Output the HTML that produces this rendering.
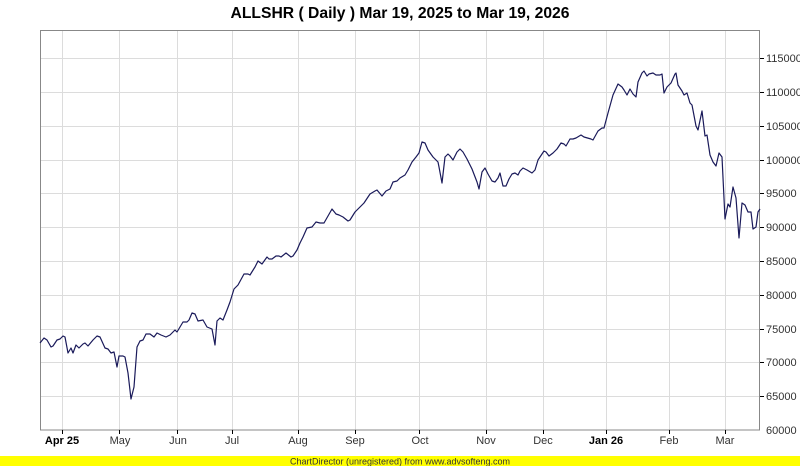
<!DOCTYPE html>
<html><head><meta charset="utf-8"><style>
html,body{margin:0;padding:0;background:#fff;}
svg{display:block;font-family:"Liberation Sans",Arial,sans-serif;}
</style></head><body>
<svg width="800" height="466" viewBox="0 0 800 466" xmlns="http://www.w3.org/2000/svg">
<rect width="800" height="466" fill="#fff"/>
<text x="400" y="18" text-anchor="middle" font-size="16" font-weight="bold" textLength="339" lengthAdjust="spacingAndGlyphs">ALLSHR ( Daily ) Mar 19, 2025 to Mar 19, 2026</text>
<g stroke="#dcdcdc" stroke-width="1">
<line x1="40" y1="58.5" x2="760" y2="58.5"/>
<line x1="40" y1="92.5" x2="760" y2="92.5"/>
<line x1="40" y1="126.5" x2="760" y2="126.5"/>
<line x1="40" y1="160.5" x2="760" y2="160.5"/>
<line x1="40" y1="193.5" x2="760" y2="193.5"/>
<line x1="40" y1="227.5" x2="760" y2="227.5"/>
<line x1="40" y1="261.5" x2="760" y2="261.5"/>
<line x1="40" y1="295.5" x2="760" y2="295.5"/>
<line x1="40" y1="329.5" x2="760" y2="329.5"/>
<line x1="40" y1="362.5" x2="760" y2="362.5"/>
<line x1="40" y1="396.5" x2="760" y2="396.5"/>
<line x1="62.5" y1="30" x2="62.5" y2="430"/>
<line x1="119.5" y1="30" x2="119.5" y2="430"/>
<line x1="177.5" y1="30" x2="177.5" y2="430"/>
<line x1="232.5" y1="30" x2="232.5" y2="430"/>
<line x1="298.5" y1="30" x2="298.5" y2="430"/>
<line x1="355.5" y1="30" x2="355.5" y2="430"/>
<line x1="419.5" y1="30" x2="419.5" y2="430"/>
<line x1="486.5" y1="30" x2="486.5" y2="430"/>
<line x1="543.5" y1="30" x2="543.5" y2="430"/>
<line x1="606.5" y1="30" x2="606.5" y2="430"/>
<line x1="669.5" y1="30" x2="669.5" y2="430"/>
<line x1="725.5" y1="30" x2="725.5" y2="430"/>
</g>
<rect x="40.5" y="30.5" width="719" height="399.5" fill="none" stroke="#888" stroke-width="1"/>
<g stroke="#000" stroke-width="1">
<line x1="760" y1="58.5" x2="764" y2="58.5"/><line x1="760" y1="92.5" x2="764" y2="92.5"/><line x1="760" y1="126.5" x2="764" y2="126.5"/><line x1="760" y1="160.5" x2="764" y2="160.5"/><line x1="760" y1="193.5" x2="764" y2="193.5"/><line x1="760" y1="227.5" x2="764" y2="227.5"/><line x1="760" y1="261.5" x2="764" y2="261.5"/><line x1="760" y1="295.5" x2="764" y2="295.5"/><line x1="760" y1="329.5" x2="764" y2="329.5"/><line x1="760" y1="362.5" x2="764" y2="362.5"/><line x1="760" y1="396.5" x2="764" y2="396.5"/>
<line x1="62.5" y1="430" x2="62.5" y2="434"/><line x1="119.5" y1="430" x2="119.5" y2="434"/><line x1="177.5" y1="430" x2="177.5" y2="434"/><line x1="232.5" y1="430" x2="232.5" y2="434"/><line x1="298.5" y1="430" x2="298.5" y2="434"/><line x1="355.5" y1="430" x2="355.5" y2="434"/><line x1="419.5" y1="430" x2="419.5" y2="434"/><line x1="486.5" y1="430" x2="486.5" y2="434"/><line x1="543.5" y1="430" x2="543.5" y2="434"/><line x1="606.5" y1="430" x2="606.5" y2="434"/><line x1="669.5" y1="430" x2="669.5" y2="434"/><line x1="725.5" y1="430" x2="725.5" y2="434"/>
</g>
<g font-size="11" fill="#333">
<text x="766" y="62">115000</text><text x="766" y="96">110000</text><text x="766" y="130">105000</text><text x="766" y="164">100000</text><text x="766" y="197">95000</text><text x="766" y="231">90000</text><text x="766" y="265">85000</text><text x="766" y="299">80000</text><text x="766" y="333">75000</text><text x="766" y="366">70000</text><text x="766" y="400">65000</text><text x="766" y="434">60000</text>
</g>
<g font-size="11" fill="#333" text-anchor="middle">
<text x="62" y="444" font-weight="bold" fill="#000">Apr 25</text>
<text x="120" y="444">May</text><text x="178" y="444">Jun</text><text x="232" y="444">Jul</text><text x="298" y="444">Aug</text><text x="355" y="444">Sep</text><text x="420" y="444">Oct</text><text x="486" y="444">Nov</text><text x="543" y="444">Dec</text>
<text x="606" y="444" font-weight="bold" fill="#000">Jan 26</text>
<text x="669" y="444">Feb</text><text x="725" y="444">Mar</text>
</g>
<polyline fill="none" stroke="#1a1a5a" stroke-width="1.2" stroke-linejoin="round" points="40,343 44,338 47,340 51,347 53,346 57,340 60,339 63,336 65,337 68,353 71,348 73,353 76,345 79,348 83,344 85,343 88,346 93,340 97,336 100,337 105,348 108,349 111,353 114,352 117,367 119,356 123,356 125,357 128,373 131,399 134,387 137,347 140,341 143,340 146,334 150,334 154,337 157,333 161,335 166,337 170,335 175,330 177,332 183,322 187,322 189,320 192,313 195,314 198,321 203,320 207,327 212,329 215,345 217,321 220,318 223,320 227,310 230,302 234,289 238,285 244,274 248,274 250,275 255,267 258,261 262,264 267,257 269,259 272,259 276,256 279,256 281,257 286,253 291,257 293,256 297,250 300,243 303,237 307,228 312,227 316,222 320,223 324,223 328,216 332,209 336,214 339,215 343,217 348,221 350,220 355,212 360,207 364,203 370,194 375,191 377,190 382,196 386,191 390,189 393,182 397,181 400,178 405,175 408,170 412,162 416,157 419,153 422,142 425,143 428,150 433,157 438,162 439,167 442,183 445,157 448,154 450,156 453,160 457,152 460,149 463,152 467,159 472,169 477,182 479,189 482,172 485,168 488,174 492,181 495,182 498,178 500,173 503,186 506,186 509,179 512,174 515,173 518,175 520,171 523,168 527,170 532,173 535,170 538,160 544,151 546,152 549,156 553,153 557,149 561,143 564,144 566,146 570,139 573,139 576,138 581,135 584,137 591,139 593,140 598,131 602,128 604,128 608,113 613,95 618,84 622,87 624,90 627,95 630,89 633,94 636,97 638,82 642,73 644,71 647,76 649,74 653,73 656,75 660,75 662,74 664,93 667,87 671,83 675,74 676,73 678,85 682,91 684,95 687,93 690,103 692,105 696,126 698,130 702,111 705,136 707,135 710,155 713,162 716,166 719,153 722,157 725,219 728,204 730,207 733,187 736,198 739,238 742,203 745,205 748,212 751,212 753,229 756,227 758,212 760,209"/>
<rect x="0" y="456" width="800" height="10" fill="#ffff00"/>
<text x="400" y="464.5" text-anchor="middle" font-size="9" fill="#333">ChartDirector (unregistered) from www.advsofteng.com</text>
</svg>
</body></html>
